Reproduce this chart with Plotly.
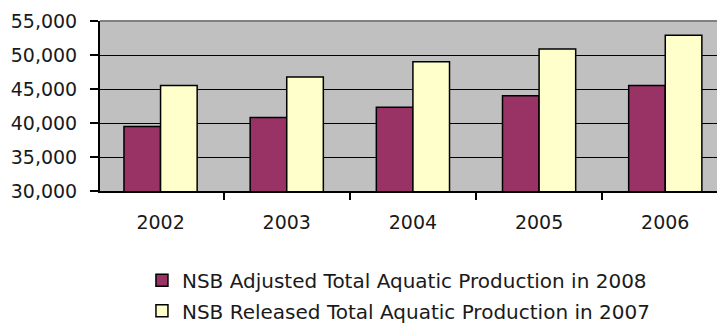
import plotly.graph_objects as go

years = ["2002", "2003", "2004", "2005", "2006"]
adjusted_2008 = [39500, 40800, 42300, 44000, 45500]
released_2007 = [45500, 46750, 49000, 50900, 52900]
y_ticks = [30000, 35000, 40000, 45000, 50000, 55000]
y_tick_labels = ["30,000", "35,000", "40,000", "45,000", "50,000", "55,000"]

FONT = "DejaVu Sans"

fig = go.Figure()
fig.add_trace(go.Bar(
    x=years, y=adjusted_2008,
    name="NSB Adjusted Total Aquatic Production in 2008",
    marker=dict(color="#993366", line=dict(color="#000000", width=1.5)),
    legend="legend",
))
fig.add_trace(go.Bar(
    x=years, y=released_2007,
    name="NSB Released Total Aquatic Production in 2007",
    marker=dict(color="#FFFFCC", line=dict(color="#000000", width=1.5)),
    legend="legend2",
))

legend_common = dict(
    orientation="v",
    x=0.068, xanchor="left",
    yanchor="middle",
    bgcolor="rgba(0,0,0,0)",
    font=dict(family=FONT, size=20, color="#1a1a1a"),
    itemwidth=30,
)

fig.update_layout(
    width=717, height=325,
    margin=dict(l=100, r=0, t=21, b=134, autoexpand=False),
    paper_bgcolor="white",
    plot_bgcolor="#C0C0C0",
    barmode="group",
    bargap=0.42,
    bargroupgap=0,
    font=dict(family=FONT, size=19, color="#1a1a1a"),
    showlegend=True,
    legend=dict(legend_common, y=-0.525),
    legend2=dict(legend_common, y=-0.705),
    xaxis=dict(
        type="category",
        range=[-0.48, 4.41],
        showgrid=False,
        showline=True, linecolor="#000000", linewidth=2,
        ticks="outside", ticklen=7, tickwidth=1.5, tickcolor="#000000",
        tickson="boundaries",
        tickfont=dict(family=FONT, size=19, color="#1a1a1a"),
        ticklabelstandoff=13,
        zeroline=False,
    ),
    yaxis=dict(
        range=[30000, 55000],
        tickvals=y_ticks, ticktext=y_tick_labels,
        showgrid=True, gridcolor="#000000", gridwidth=1,
        showline=True, linecolor="#000000", linewidth=2,
        ticks="outside", ticklen=8, tickwidth=1.5, tickcolor="#000000",
        tickfont=dict(family=FONT, size=19, color="#1a1a1a"),
        ticklabelstandoff=9,
        zeroline=False,
    ),
    shapes=[dict(
        type="line", xref="paper", yref="paper",
        x0=0, x1=1, y0=1, y1=1,
        line=dict(color="#808080", width=2),
    )],
)

fig.write_html("out.html")
